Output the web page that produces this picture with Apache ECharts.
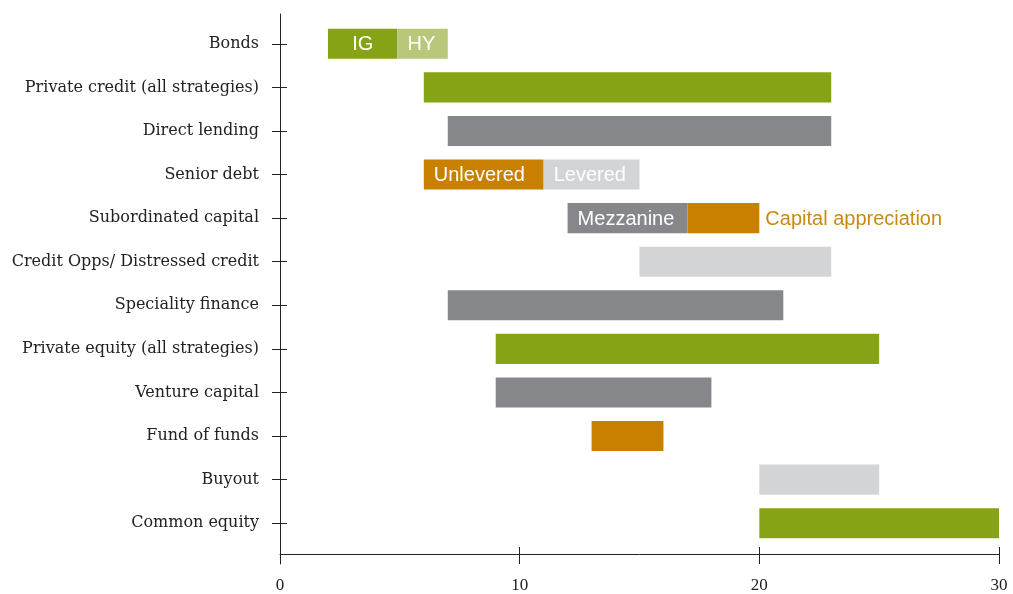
<!DOCTYPE html>
<html>
<head>
<meta charset="utf-8">
<script src="https://cdn.jsdelivr.net/npm/echarts@6/dist/echarts.min.js"></script>
<style>
  html, body { margin: 0; padding: 0; background: #fff; }
  #chart { width: 1013px; height: 594px; }
</style>
</head>
<body>
<div id="chart"></div>
<script>
  const categories = ['Bonds', 'Private credit (all strategies)', 'Direct lending', 'Senior debt',
    'Subordinated capital', 'Credit Opps/ Distressed credit', 'Speciality finance',
    'Private equity (all strategies)', 'Venture capital', 'Fund of funds', 'Buyout', 'Common equity']

  // one entry per coloured segment
  const segRow   = [0, 0, 1, 2, 3, 3, 4, 4, 5, 6, 7, 8, 9, 10, 11]
  const segStart = [2, 4.9, 6, 7, 6, 11, 12, 17, 15, 7, 9, 9, 13, 20, 20]
  const segEnd   = [4.9, 7, 23, 23, 11, 15, 17, 20, 23, 21, 25, 18, 16, 25, 30]
  const segKind  = ['green', 'lightGreen', 'green', 'grey', 'orange', 'lightGrey', 'grey', 'orange',
    'lightGrey', 'grey', 'green', 'grey', 'orange', 'lightGrey', 'green']
  const segLabel = ['IG', 'HY', '', '', 'Unlevered', 'Levered', 'Mezzanine', '', '', '', '', '', '', '', '']

  // text written after a bar
  const noteRow  = [4]
  const noteAt   = [20]
  const noteText = ['Capital appreciation']

  const xMin = 0, xMax = 30, xStep = 10

  const colors = {
    green: '#86a315',
    lightGreen: '#b7c87a',
    grey: '#86878b',
    lightGrey: '#d3d4d6',
    orange: '#c98000'
  }
  const axisColor = '#222'
  const labelFont = '"Liberation Sans", Arial, sans-serif'

  let chart = echarts.init(document.getElementById('chart'))

  let yCat = {
    type: 'category',
    data: categories,
    inverse: true,
    gridIndex: 0,
    position: 'left',
    // line is drawn by the second grid, keep it invisible here so ticks still show
    axisLine: { show: true, lineStyle: { color: 'rgba(0,0,0,0)' } },
    axisTick: { show: true, alignWithLabel: true, length: 8, lineStyle: { color: axisColor } },
    axisLabel: {
      margin: 21,
      fontFamily: '"DejaVu Serif", serif',
      fontSize: 16,
      color: '#222'
    }
  }

  let option = {
    animation: false,
    backgroundColor: '#fff',
    grid: [
      { left: 280, right: 14, top: 22, bottom: 49 },
      // only carries the long vertical axis line
      { left: 280, width: 1, top: 14, bottom: 30 }
    ],
    xAxis: [
      {
        type: 'value', gridIndex: 0, position: 'bottom', min: xMin, max: xMax, interval: xStep, offset: 9,
        splitLine: { show: false },
        axisLine: { show: true, lineStyle: { color: axisColor } },
        axisTick: { show: true, length: 10, lineStyle: { color: axisColor } },
        axisLabel: { margin: 23, fontFamily: '"Liberation Serif", serif', fontSize: 17, color: '#222' }
      },
      {
        type: 'value', gridIndex: 0, position: 'bottom', min: xMin, max: xMax, interval: xStep, offset: 9,
        splitLine: { show: false },
        axisLine: { show: true, lineStyle: { color: 'rgba(0,0,0,0)' } },
        axisTick: { show: true, inside: true, length: 7, lineStyle: { color: axisColor } },
        axisLabel: { show: false }
      },
      { type: 'value', gridIndex: 1, show: false }
    ],
    yAxis: [
      yCat,
      Object.assign({}, yCat, {
        axisTick: { show: true, alignWithLabel: true, inside: true, length: 7, lineStyle: { color: axisColor } },
        axisLabel: { show: false }
      }),
      {
        type: 'value', gridIndex: 1, min: 0, max: 1, position: 'left',
        axisLine: { show: true, lineStyle: { color: axisColor } },
        axisTick: { show: false }, axisLabel: { show: false }, splitLine: { show: false }
      }
    ],
    series: [
      {
        type: 'custom',
        xAxisIndex: 0,
        yAxisIndex: 0,
        encode: { x: [1, 2], y: 0 },
        data: segRow.map((r, i) => [r, segStart[i], segEnd[i]]),
        renderItem(params, api) {
          let row = api.value(0)
          let p0 = api.coord([api.value(1), row])
          let p1 = api.coord([api.value(2), row])
          let h = api.size([0, 1])[1] * 0.69
          let i = params.dataIndex
          let children = [{
            type: 'rect',
            shape: { x: p0[0], y: p0[1] - h / 2, width: p1[0] - p0[0], height: h },
            style: { fill: colors[segKind[i]] }
          }]
          if (segLabel[i]) {
            let centred = i === 0
            children.push({
              type: 'text',
              style: {
                x: centred ? (p0[0] + p1[0]) / 2 : p0[0] + 10,
                y: p0[1] + 1,
                text: segLabel[i],
                fill: '#fff',
                font: '20px ' + labelFont,
                align: centred ? 'center' : 'left',
                verticalAlign: 'middle'
              }
            })
          }
          return { type: 'group', children: children }
        }
      },
      {
        type: 'custom',
        xAxisIndex: 0,
        yAxisIndex: 0,
        encode: { x: 1, y: 0 },
        data: noteRow.map((r, i) => [r, noteAt[i]]),
        renderItem(params, api) {
          let p = api.coord([api.value(1), api.value(0)])
          return {
            type: 'text',
            style: {
              x: p[0] + 6,
              y: p[1] + 1,
              text: noteText[params.dataIndex],
              fill: '#c98a12',
              font: '20px ' + labelFont,
              align: 'left',
              verticalAlign: 'middle'
            }
          }
        }
      }
    ]
  }

  chart.setOption(option)
</script>
</body>
</html>
